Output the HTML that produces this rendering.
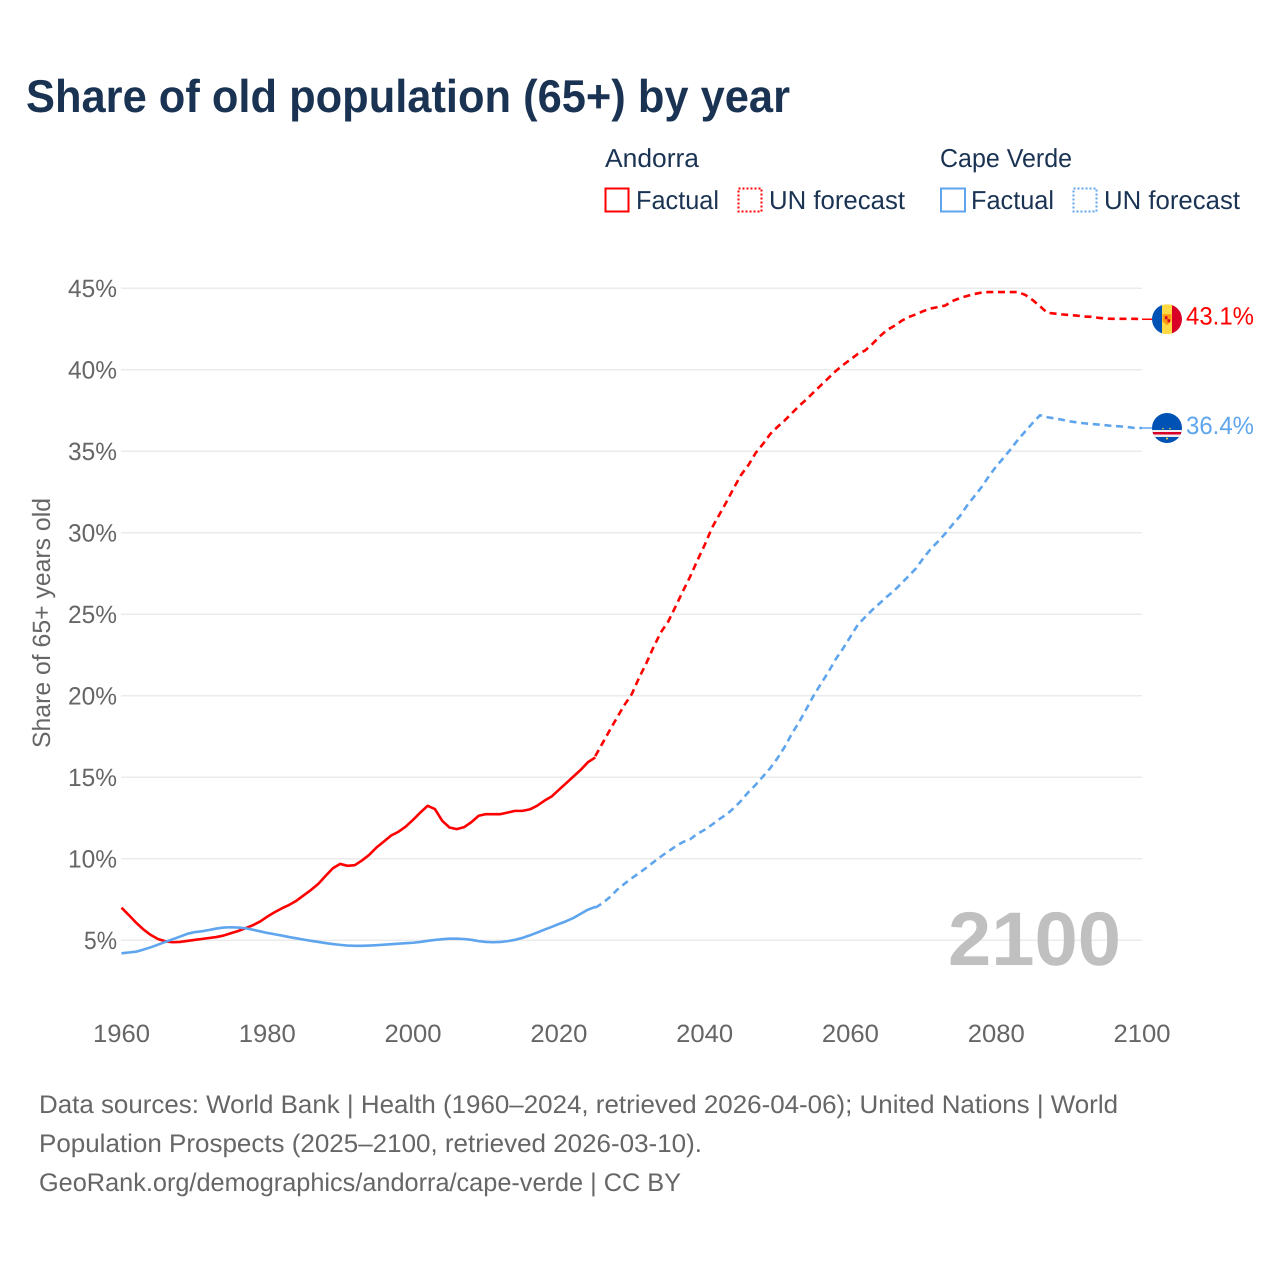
<!DOCTYPE html>
<html lang="en">
<head>
<meta charset="utf-8">
<title>Share of old population (65+) by year</title>
<style>
  html, body { margin: 0; padding: 0; background: #fff; }
  body { width: 1280px; height: 1280px; overflow: hidden; }
  svg { display: block; font-family: "Liberation Sans", sans-serif; text-rendering: geometricPrecision; }
  .tick { fill: #666; font-size: 25px; }
  .legend { fill: #1a3353; font-size: 26px; }
  .foot { fill: #666; font-size: 25.5px; }
</style>
</head>
<body>
<svg id="chart" width="1280" height="1280" viewBox="0 0 1280 1280" xmlns="http://www.w3.org/2000/svg">
  <defs>
    <clipPath id="flag-clip-a"><circle cx="0" cy="0" r="15"></circle></clipPath>
    <clipPath id="flag-clip-c"><circle cx="0" cy="0" r="15"></circle></clipPath>
  </defs>

  <text x="26" y="112" font-size="46" font-weight="700" fill="#1a3353" textLength="764" lengthAdjust="spacingAndGlyphs">Share of old population (65+) by year</text>

  <g>
    <text class="legend" x="605" y="167" textLength="94" lengthAdjust="spacingAndGlyphs">Andorra</text>
    <rect x="605.5" y="188.5" width="23" height="23" fill="none" stroke="#ff0000" stroke-width="2"></rect>
    <text class="legend" x="636" y="209" textLength="83" lengthAdjust="spacingAndGlyphs">Factual</text>
    <rect x="738.5" y="188.5" width="23" height="23" fill="none" stroke="#ff0000" stroke-width="2" stroke-dasharray="2 2"></rect>
    <text class="legend" x="769" y="209" textLength="136" lengthAdjust="spacingAndGlyphs">UN forecast</text>

    <text class="legend" x="940" y="167" textLength="132" lengthAdjust="spacingAndGlyphs">Cape Verde</text>
    <rect x="941" y="188.5" width="24" height="23" fill="none" stroke="#5fa5ee" stroke-width="2"></rect>
    <text class="legend" x="971" y="209" textLength="83" lengthAdjust="spacingAndGlyphs">Factual</text>
    <rect x="1073.5" y="188.5" width="23" height="23" fill="none" stroke="#5fa5ee" stroke-width="2" stroke-dasharray="2 2"></rect>
    <text class="legend" x="1104" y="209" textLength="136" lengthAdjust="spacingAndGlyphs">UN forecast</text>
  </g>

  <g id="grid"></g>
  <g id="yticks"></g>
  <g id="xticks"></g>

  <text transform="translate(50 623) rotate(-90)" text-anchor="middle" fill="#666" font-size="25" textLength="250" lengthAdjust="spacingAndGlyphs">Share of 65+ years old</text>

  <text x="948" y="965" font-size="76" font-weight="700" fill="#c0c0c0" textLength="173" lengthAdjust="spacingAndGlyphs">2100</text>

  <g id="series"></g>

  <g id="flag-andorra">
    <g clip-path="url(#flag-clip-a)">
      <rect x="-15" y="-15" width="10" height="30" fill="#0052b4"></rect>
      <rect x="-5" y="-15" width="10" height="30" fill="#ffda44"></rect>
      <rect x="5" y="-15" width="10" height="30" fill="#d80027"></rect>
      <path d="M-4.5 -5 L4.5 -5 L4.5 2 L0 6 L-4.5 2 Z" fill="#ff9811"></path>
      <rect x="-2" y="-3" width="2.5" height="3" fill="#d80027"></rect>
      <rect x="0.5" y="0" width="2.5" height="3" fill="#d80027"></rect>
    </g>
  </g>
  <g id="flag-cape-verde">
    <g clip-path="url(#flag-clip-c)">
      <rect x="-15" y="-15" width="30" height="30" fill="#0052b4"></rect>
      <rect x="-15" y="2" width="30" height="7" fill="#f0f0f0"></rect>
      <rect x="-15" y="4" width="30" height="2.5" fill="#d80027"></rect>
      <circle cx="0" cy="10.5" r="1" fill="#ffda44"></circle>
      <circle cx="-4" cy="0.5" r="0.8" fill="#ffda44"></circle>
      <circle cx="3" cy="0.5" r="0.8" fill="#ffda44"></circle>
    </g>
  </g>

  <text id="label-andorra" x="1186" font-size="25" fill="#ff0000" textLength="68" lengthAdjust="spacingAndGlyphs"></text>
  <text id="label-cape-verde" x="1186" font-size="25" fill="#5fa5ee" textLength="68" lengthAdjust="spacingAndGlyphs"></text>

  <g>
    <text class="foot" x="39" y="1113" textLength="1079" lengthAdjust="spacingAndGlyphs">Data sources: World Bank | Health (1960–2024, retrieved 2026-04-06); United Nations | World</text>
    <text class="foot" x="39" y="1152" textLength="663" lengthAdjust="spacingAndGlyphs">Population Prospects (2025–2100, retrieved 2026-03-10).</text>
    <text class="foot" x="39" y="1191" textLength="642" lengthAdjust="spacingAndGlyphs">GeoRank.org/demographics/andorra/cape-verde | CC BY</text>
  </g>
</svg>

<script>
// ---- chart data ----
const factualStartYear = 1960;
const forecastStartYear = 2025;
const xTickYears = [1960, 1980, 2000, 2020, 2040, 2060, 2080, 2100];
const yTickValues = [5, 10, 15, 20, 25, 30, 35, 40, 45];

const andorraFactual = [
  7.0, 6.55, 6.08, 5.67, 5.33, 5.08, 4.94, 4.88, 4.9, 4.96,
  5.02, 5.08, 5.14, 5.2, 5.29, 5.43, 5.57, 5.74, 5.92, 6.15,
  6.45, 6.72, 6.96, 7.17, 7.43, 7.76, 8.09, 8.46, 8.95, 9.42,
  9.69, 9.57, 9.61, 9.9, 10.25, 10.7, 11.06, 11.43, 11.66, 11.98,
  12.39, 12.84, 13.25, 13.05, 12.33, 11.92, 11.82, 11.94, 12.25, 12.64,
  12.74, 12.74, 12.74, 12.84, 12.94, 12.94, 13.03, 13.25, 13.56, 13.82,
  14.23, 14.64, 15.05, 15.46, 15.93, 16.22
];
const andorraForecast = [
  16.3, 17.1, 17.9, 18.68, 19.44, 20.1, 21.1, 22.0, 23.0, 23.9,
  24.55, 25.47, 26.4, 27.3, 28.3, 29.25, 30.3, 31.1, 31.9, 32.75,
  33.55, 34.15, 34.9, 35.45, 36.06, 36.5, 36.9, 37.35, 37.8, 38.2,
  38.64, 39.07, 39.5, 39.93, 40.3, 40.63, 40.97, 41.18, 41.58, 42.04,
  42.44, 42.69, 43.0, 43.24, 43.4, 43.6, 43.76, 43.85, 43.94, 44.22,
  44.4, 44.53, 44.65, 44.74, 44.77, 44.77, 44.77, 44.77, 44.77, 44.59,
  44.28, 43.9, 43.5, 43.45, 43.4, 43.36, 43.33, 43.27, 43.25, 43.19,
  43.14, 43.13, 43.13, 43.13, 43.13, 43.1
];
const capeVerdeFactual = [
  4.2, 4.25, 4.3, 4.43, 4.57, 4.73, 4.9, 5.06, 5.22, 5.39,
  5.5, 5.55, 5.63, 5.72, 5.78, 5.8, 5.78, 5.74, 5.65, 5.55,
  5.45, 5.37, 5.29, 5.2, 5.12, 5.04, 4.97, 4.9, 4.83, 4.77,
  4.72, 4.68, 4.66, 4.66, 4.68, 4.7, 4.73, 4.76, 4.79, 4.82,
  4.85, 4.9, 4.97, 5.02, 5.07, 5.1, 5.1, 5.08, 5.03, 4.95,
  4.9, 4.88, 4.9, 4.95, 5.03, 5.15, 5.3, 5.47, 5.65, 5.82,
  6.0, 6.17, 6.37, 6.63, 6.88, 7.05
];
const capeVerdeForecast = [
  7.0, 7.28, 7.65, 8.1, 8.47, 8.81, 9.12, 9.45, 9.8, 10.14,
  10.45, 10.76, 11.02, 11.2, 11.53, 11.78, 12.09, 12.43, 12.72, 13.11,
  13.56, 14.09, 14.54, 15.05, 15.56, 16.18, 16.88, 17.7, 18.42, 19.23,
  20.05, 20.77, 21.48, 22.26, 22.91, 23.63, 24.35, 24.82, 25.27, 25.67,
  26.08, 26.45, 26.9, 27.35, 27.82, 28.44, 29.0, 29.46, 29.95, 30.5,
  31.01, 31.67, 32.24, 32.81, 33.47, 34.08, 34.59, 35.14, 35.72, 36.23,
  36.74, 37.21, 37.09, 37.02, 36.94, 36.84, 36.78, 36.72, 36.68, 36.64,
  36.6, 36.55, 36.53, 36.49, 36.43, 36.43
];

// ---- axis functions ----
function xScale(year) { return 121.5 + (year - 1960) * (1142 - 121.5) / 140; }
function yScale(value) { return 1021.8 - value * 16.3; }

const NS = 'http://www.w3.org/2000/svg';
const gridGroup = document.getElementById('grid');
const yTickGroup = document.getElementById('yticks');
const xTickGroup = document.getElementById('xticks');
const seriesGroup = document.getElementById('series');

yTickValues.forEach(function (v) {
  const line = document.createElementNS(NS, 'line');
  
  
  line.setAttribute('x1', 121);
  line.setAttribute('x2', 1142);
  line.setAttribute('y1', yScale(v));
  line.setAttribute('y2', yScale(v));
  line.setAttribute('stroke', '#ebebeb');
  line.setAttribute('stroke-width', '1.5');
  gridGroup.appendChild(line);

  const label = document.createElementNS(NS, 'text');
  
  
  label.setAttribute('class', 'tick');
  label.setAttribute('x', 117);
  label.setAttribute('y', yScale(v) + 8.5);
  label.setAttribute('text-anchor', 'end');
  const text = v + '%';
  label.setAttribute('textLength', text.length === 3 ? 49 : 33);
  label.setAttribute('lengthAdjust', 'spacingAndGlyphs');
  label.textContent = text;
  yTickGroup.appendChild(label);
});

xTickYears.forEach(function (yr) {
  const label = document.createElementNS(NS, 'text');
  
  
  label.setAttribute('class', 'tick');
  label.setAttribute('x', xScale(yr));
  label.setAttribute('y', 1042);
  label.setAttribute('text-anchor', 'middle');
  label.setAttribute('textLength', 57);
  label.setAttribute('lengthAdjust', 'spacingAndGlyphs');
  label.textContent = String(yr);
  xTickGroup.appendChild(label);
});

function linePath(values, startYear) {
  return values.map(function (v, i) {
    return (i ? 'L' : 'M') + xScale(startYear + i).toFixed(2) + ' ' + yScale(v).toFixed(2);
  }).join(' ');
}

function drawLine(name, values, startYear, color, dashed) {
  const path = document.createElementNS(NS, 'path');
  
  
  path.setAttribute('d', linePath(values, startYear));
  path.setAttribute('fill', 'none');
  path.setAttribute('stroke', color);
  path.setAttribute('stroke-width', '2.6');
  path.setAttribute('stroke-linejoin', 'round');
  if (dashed) { path.setAttribute('stroke-dasharray', '7 4.7'); }
  seriesGroup.appendChild(path);
}

drawLine('andorra-forecast-line', andorraForecast, forecastStartYear, '#ff0000', true);
drawLine('cape-verde-forecast-line', capeVerdeForecast, forecastStartYear, '#5fa5ee', true);
drawLine('andorra-factual-line', andorraFactual, factualStartYear, '#ff0000', false);
drawLine('cape-verde-factual-line', capeVerdeFactual, factualStartYear, '#5fa5ee', false);

const lastA = andorraForecast[andorraForecast.length - 1];
const lastC = capeVerdeForecast[capeVerdeForecast.length - 1];

document.getElementById('flag-andorra').setAttribute('transform', 'translate(1167 ' + yScale(lastA).toFixed(2) + ')');
document.getElementById('flag-cape-verde').setAttribute('transform', 'translate(1167 ' + yScale(lastC).toFixed(2) + ')');

const labelA = document.getElementById('label-andorra');
labelA.setAttribute('y', (yScale(lastA) + 5).toFixed(2));
labelA.textContent = lastA.toFixed(1) + '%';
const labelC = document.getElementById('label-cape-verde');
labelC.setAttribute('y', (yScale(lastC) + 6).toFixed(2));
labelC.textContent = lastC.toFixed(1) + '%';

// Short tails from the axis end to each flag.
function drawTail(name, value, color) {
  const tail = document.createElementNS(NS, 'line');
  
  
  tail.setAttribute('x1', xScale(2100));
  tail.setAttribute('x2', 1152);
  tail.setAttribute('y1', yScale(value));
  tail.setAttribute('y2', yScale(value));
  tail.setAttribute('stroke', color);
  tail.setAttribute('stroke-width', '1.5');
  seriesGroup.appendChild(tail);
}
drawTail('andorra-flag-tail', lastA, '#ff0000');
drawTail('cape-verde-flag-tail', lastC, '#5fa5ee');
</script>
</body>
</html>
